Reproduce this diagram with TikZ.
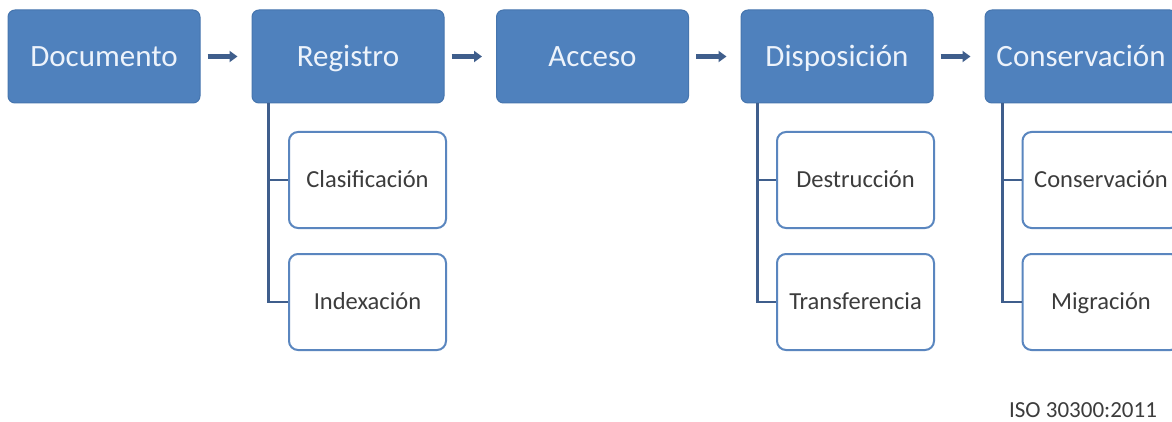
\documentclass[tikz,border=0pt]{standalone}
\usepackage{fontspec}
\setmainfont{Carlito}
\usetikzlibrary{arrows.meta}
\definecolor{stageblue}{HTML}{4F81BD}
\definecolor{stageedge}{HTML}{4675AE}
\definecolor{stagetext}{HTML}{EDF3FB}
\definecolor{subedge}{HTML}{5A86BF}
\definecolor{subtext}{HTML}{3C3C3C}
\definecolor{linkblue}{HTML}{3F5E8C}
\begin{document}
\begin{tikzpicture}[x=1pt,y=-1pt,
  stage/.style={draw=stageedge, line width=1pt, fill=stageblue, rounded corners=7pt,
    minimum width=192pt, minimum height=93pt, inner sep=0pt, text=stagetext,
    text height=23pt, text depth=3pt,
    font=\fontsize{31}{36}\selectfont},
  substage/.style={draw=subedge, line width=2pt, fill=white, rounded corners=9pt,
    minimum width=157pt, minimum height=96pt, inner sep=0pt, text=subtext,
    text height=18pt, text depth=2.2pt,
    font=\fontsize{24.5}{28}\selectfont},
  flow/.style={draw=linkblue, line width=4.5pt, -{Triangle[length=8pt,width=11pt]}},
  branch/.style={draw=linkblue, line width=2.5pt}]
% canvas
\fill[white] (0,0) rectangle (1172,422);
\useasboundingbox (0,0) rectangle (1172,422);

% main stages
\node[stage] (doc) at (104,56.5) {Documento};
\node[stage] (reg) at (348,56.5) {Registro};
\node[stage] (acc) at (592.5,56.5) {Acceso};
\node[stage] (dis) at (837,56.5) {Disposición};
\node[stage] (con) at (1081,56.5) {Conservación};

% flow arrows between stages
\draw[flow] ([xshift=7pt]doc.east) -- ([xshift=-14pt]reg.west);
\draw[flow] ([xshift=7pt]reg.east) -- ([xshift=-14pt]acc.west);
\draw[flow] ([xshift=7pt]acc.east) -- ([xshift=-14pt]dis.west);
\draw[flow] ([xshift=7pt]dis.east) -- ([xshift=-14pt]con.west);

% sub-stages
\node[substage] (cla) at (367.5,180) {Clasificación};
\node[substage] (ind) at (367.5,302) {Indexación};
\node[substage] (des) at (855.5,180) {Destrucción};
\node[substage] (tra) at (855.5,302) {Transferencia};
\node[substage] (cns) at (1101,180) {Conservación};
\node[substage] (mig) at (1101,302) {Migración};

% branch connectors
\draw[branch] ([xshift=17pt]reg.south west) |- (cla.west);
\draw[branch] ([xshift=17pt]reg.south west) |- (ind.west);
\draw[branch] ([xshift=17pt]dis.south west) |- (des.west);
\draw[branch] ([xshift=17pt]dis.south west) |- (tra.west);
\draw[branch] ([xshift=18pt]con.south west) |- (cns.west);
\draw[branch] ([xshift=18pt]con.south west) |- (mig.west);

% reference note
\node[text=subtext, font=\fontsize{23}{26}\selectfont, inner sep=0pt] (iso) at (1083,410) {ISO 30300:2011};
\end{tikzpicture}
\end{document}
